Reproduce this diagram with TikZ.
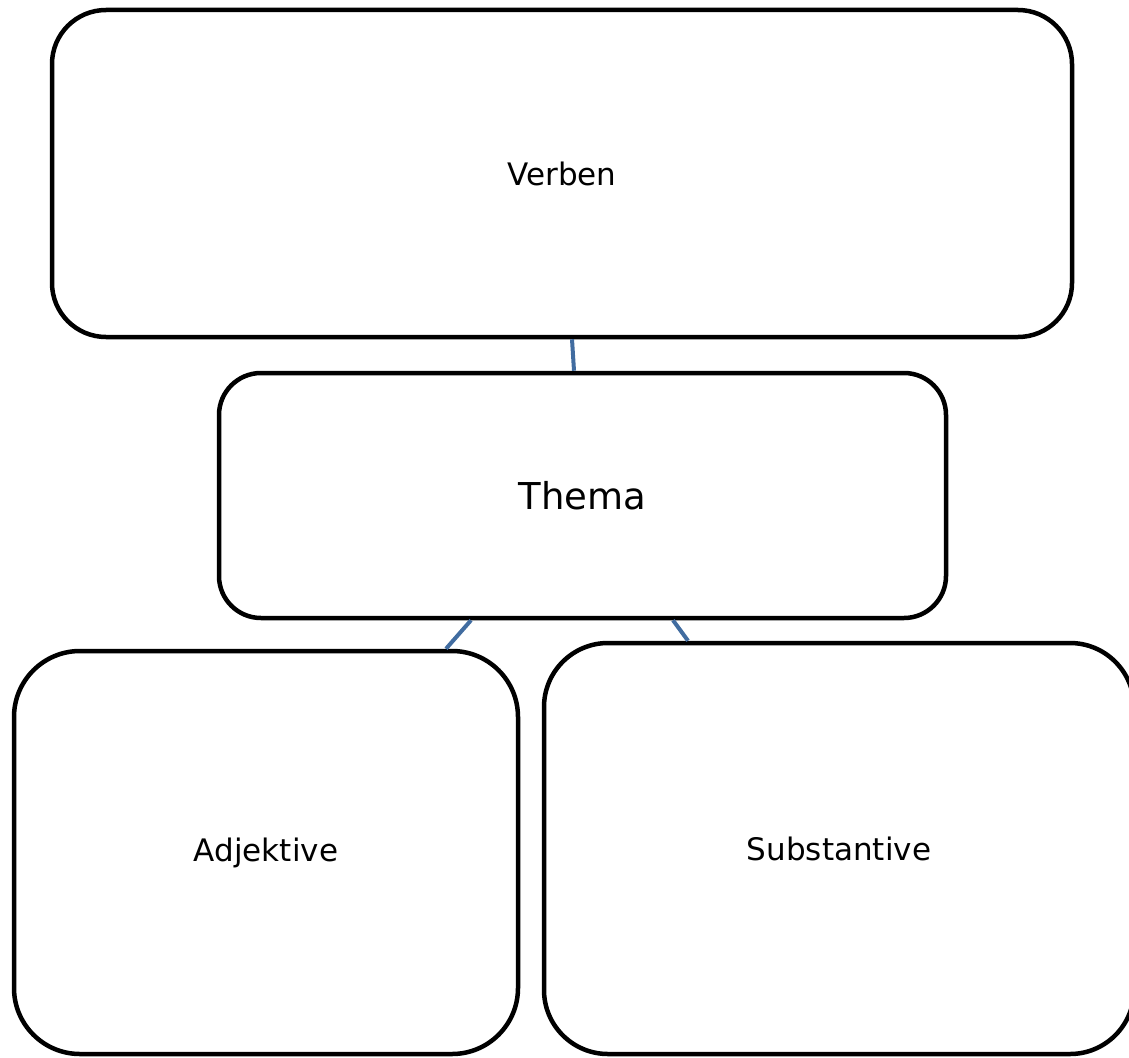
\documentclass[tikz,border=0pt]{standalone}
\usepackage{fontspec}
\setmainfont{DejaVu Sans}
\usepackage{tikz}
\usetikzlibrary{positioning}
\definecolor{linkblue}{RGB}{65,108,160}
\tikzset{box/.style={draw=black, line width=4.5pt, inner sep=0pt, fill=white, font=\fontsize{31}{37}\selectfont}}
\tikzset{link/.style={draw=linkblue, line width=4pt}}

\begin{document}
\begin{tikzpicture}[x=1pt,y=-1pt]
\useasboundingbox (0,0) rectangle (1129,1057);
\clip (0,0) rectangle (1129,1057);
\node[box, rounded corners=54pt, minimum width=1020pt, minimum height=327pt] (verben) at (562,173.5) {Verben};
\node[box, rounded corners=42pt, minimum width=727pt, minimum height=245pt, font=\fontsize{37}{44}\selectfont] (thema) at (582.5,495.5) {Thema};
\node[box, rounded corners=66pt, minimum width=504pt, minimum height=403pt] (adj) at (266,852.5) {Adjektive};
\node[box, rounded corners=64pt, minimum width=590pt, minimum height=411pt] (subst) at (839,848.5) {Substantive};
\draw[link] ([xshift=10pt]verben.south) -- ([xshift=-8.5pt]thema.north);
\draw[link] ([xshift=-111.5pt]thema.south) -- ([xshift=180pt]adj.north);
\draw[link] ([xshift=90.5pt]thema.south) -- ([xshift=-151pt]subst.north);
\end{tikzpicture}
\end{document}
